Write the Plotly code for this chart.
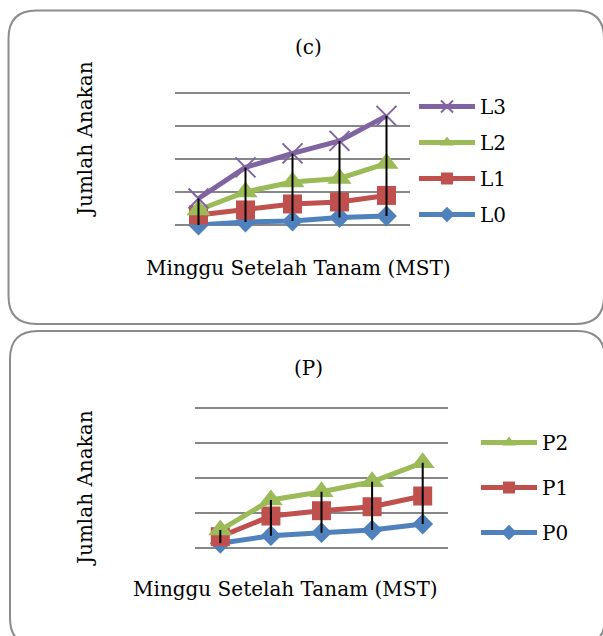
import plotly.graph_objects as go

W, H = 603, 636

weeks = ["1", "2", "3", "4", "5"]
# panel (c)
L0 = [0.08, 0.53, 0.68, 1.21, 1.44]
L1 = [1.59, 2.35, 3.26, 3.56, 4.55]
L2 = [2.35, 5.08, 6.59, 7.12, 9.39]
L3 = [4.09, 8.79, 10.91, 12.80, 16.59]
# panel (P)
P0 = [0.71, 1.80, 2.23, 2.61, 3.47]
P1 = [1.66, 4.61, 5.37, 5.94, 7.47]
P2 = [2.61, 6.90, 8.09, 9.51, 12.23]
grid_vals = [0, 5, 10, 15, 20]

C_BLUE, C_RED, C_GREEN, C_PURPLE = "#4F81BD", "#C0504D", "#9BBB59", "#8064A2"
FONT = "DejaVu Serif"
FS = 20
GRID = "#878787"
YTOP = 20.4


def px(x):
    return x / W


def py(y):
    return 1 - y / H


fig = go.Figure()


def add_series(name, vals, color, symbol, size, xa, ya, legend, rank, mline=None):
    marker = dict(symbol=symbol, size=size, color=color)
    if mline:
        marker["line"] = dict(color=color, width=mline)
    fig.add_trace(go.Scatter(
        x=weeks, y=vals, name=name, mode="lines+markers",
        line=dict(color=color, width=5), marker=marker,
        xaxis=xa, yaxis=ya, legend=legend, legendgroup=name, legendrank=rank,
        cliponaxis=False,
    ))


def add_hilo(series, xa, ya):
    xs, ys = [], []
    for i, w in enumerate(weeks):
        v = [s[i] for s in series]
        xs += [w, w, None]
        ys += [min(v), max(v), None]
    fig.add_trace(go.Scatter(x=xs, y=ys, mode="lines", line=dict(color="black", width=2),
                             showlegend=False, xaxis=xa, yaxis=ya, hoverinfo="skip",
                             cliponaxis=False))


add_series("L0", L0, C_BLUE, "diamond", 16, "x", "y", "legend", 4)
add_series("L1", L1, C_RED, "square", 19, "x", "y", "legend", 3)
add_series("L2", L2, C_GREEN, "triangle-up", 21, "x", "y", "legend", 2)
add_series("L3", L3, C_PURPLE, "x-thin", 20, "x", "y", "legend", 1, mline=2)
add_hilo([L0, L1, L2, L3], "x", "y")

add_series("P0", P0, C_BLUE, "diamond", 16, "x2", "y2", "legend2", 3)
add_series("P1", P1, C_RED, "square", 19, "x2", "y2", "legend2", 2)
add_series("P2", P2, C_GREEN, "triangle-up", 21, "x2", "y2", "legend2", 1)
add_hilo([P0, P1, P2], "x2", "y2")

xcommon = dict(type="category", categoryorder="array", categoryarray=weeks,
               range=[-0.5, 4.5], showticklabels=False, showgrid=False,
               zeroline=False, showline=False, ticks="")
ycommon = dict(range=[0, YTOP], tickmode="array", tickvals=grid_vals,
               showticklabels=False, showgrid=True,
               gridcolor=GRID, gridwidth=2, zeroline=True, zerolinecolor=GRID,
               zerolinewidth=2, showline=False, ticks="")

legcommon = dict(font=dict(family=FONT, size=FS, color="black"), bgcolor="rgba(0,0,0,0)",
                 xanchor="left", yanchor="top", traceorder="grouped",
                 itemwidth=56, itemsizing="constant")


def rounded(x0, y0, x1, y1, r):
    pts = [
        f"M{px(x0 + r)},{py(y0)}",
        f"L{px(x1 - r)},{py(y0)}",
        f"Q{px(x1)},{py(y0)} {px(x1)},{py(y0 + r)}",
        f"L{px(x1)},{py(y1 - r)}",
        f"Q{px(x1)},{py(y1)} {px(x1 - r)},{py(y1)}",
        f"L{px(x0 + r)},{py(y1)}",
        f"Q{px(x0)},{py(y1)} {px(x0)},{py(y1 - r)}",
        f"L{px(x0)},{py(y0 + r)}",
        f"Q{px(x0)},{py(y0)} {px(x0 + r)},{py(y0)}",
        "Z",
    ]
    return dict(type="path", xref="paper", yref="paper", path=" ".join(pts),
                line=dict(color="#8C8C8C", width=2), fillcolor="rgba(0,0,0,0)", layer="below")


def ann(text, x, y, angle=0):
    return dict(text=text, x=px(x), y=py(y), xref="paper", yref="paper",
                xanchor="center", yanchor="middle", showarrow=False, textangle=angle,
                font=dict(family=FONT, size=FS, color="black"))


top_extra = (YTOP - 20) / 20 * 132.2
bot_extra = (YTOP - 20) / 20 * 140.0

fig.update_layout(
    width=W, height=H, margin=dict(l=0, r=0, t=0, b=0),
    paper_bgcolor="white", plot_bgcolor="rgba(0,0,0,0)",
    xaxis=dict(domain=[px(175), px(410)], anchor="y", **xcommon),
    yaxis=dict(domain=[py(225.5), py(93.3 - top_extra)], anchor="x", **ycommon),
    xaxis2=dict(domain=[px(195), px(448)], anchor="y2", **xcommon),
    yaxis2=dict(domain=[py(548.3), py(408.3 - bot_extra)], anchor="x2", **ycommon),
    legend=dict(x=px(414), y=py(87), tracegroupgap=7, **legcommon),
    legend2=dict(x=px(476), y=py(423), tracegroupgap=16, **legcommon),
    shapes=[rounded(8.5, 10.5, 604, 324, 28), rounded(10, 331, 605, 646, 28)],
    annotations=[
        ann("(c)", 308, 47),
        ann("Jumlah Anakan", 85, 139, -90),
        ann("Minggu Setelah Tanam (MST)", 298, 268),
        ann("(P)", 308, 368),
        ann("Jumlah Anakan", 85, 488, -90),
        ann("Minggu Setelah Tanam (MST)", 285, 589),
    ],
    showlegend=True,
)

fig.write_html("out.html", config={"displayModeBar": False},
               post_script="document.body.style.margin='0';")
